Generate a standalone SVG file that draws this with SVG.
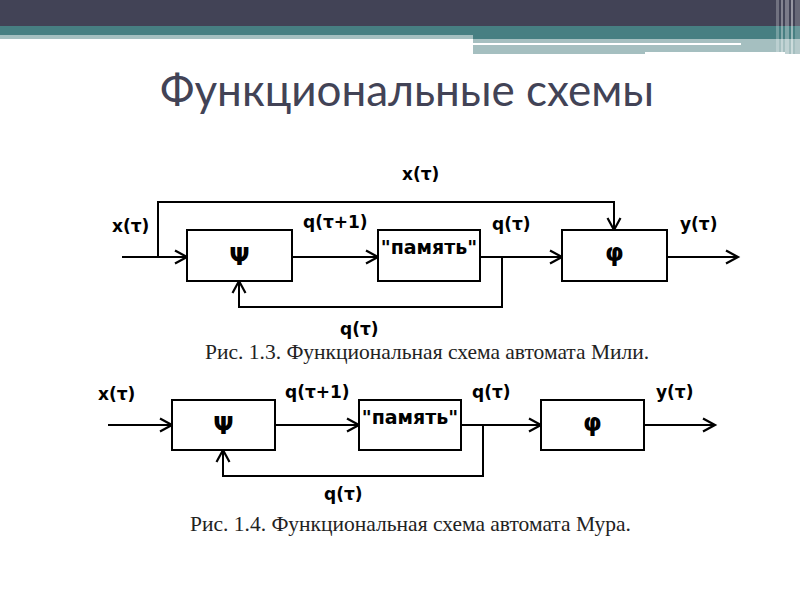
<svg xmlns="http://www.w3.org/2000/svg" width="800" height="600" viewBox="0 0 800 600">
<style>
.box{fill:#fff;stroke:#000;stroke-width:2}
.ln{fill:none;stroke:#000;stroke-width:2}
.lbl{font-family:"DejaVu Sans",sans-serif;font-weight:bold;font-size:17px;fill:#000}
.mem{font-family:"DejaVu Sans",sans-serif;font-weight:bold;font-size:19px;fill:#000}
.sym{font-family:"DejaVu Sans",sans-serif;font-weight:bold;font-size:24px;fill:#000}
.cap{font-family:"Liberation Serif",serif;font-size:21.5px;fill:#222}
</style>
<defs>
<marker id="ah" markerWidth="16" markerHeight="16" refX="13" refY="8" orient="auto" markerUnits="userSpaceOnUse">
<path d="M1,1.5 L13,8 L1,14.5" fill="none" stroke="#000" stroke-width="2.2"/>
</marker>
</defs>
<rect width="800" height="600" fill="#fff"/>
<g id="header">
<rect x="0" y="0" width="800" height="26" fill="#424356"/>
<rect x="0" y="26" width="800" height="9" fill="#477F82"/>
<rect x="0" y="35" width="473" height="4" fill="#A5BFC0"/>
<rect x="473" y="35" width="327" height="4" fill="#477F82"/>
<rect x="473" y="39" width="327" height="15" fill="#A5BFC0"/>
<rect x="473" y="43" width="268" height="2" fill="#fff"/>
<rect x="645" y="52" width="140" height="3" fill="#fff"/>
<rect x="776" y="0" width="3" height="54" fill="#fff" opacity="0.25"/>
<rect x="781" y="0" width="2" height="54" fill="#fff" opacity="0.35"/>
<rect x="785" y="0" width="4" height="54" fill="#fff" opacity="0.3"/>
<rect x="791" y="0" width="2" height="54" fill="#fff" opacity="0.45"/>
<rect x="795" y="0" width="5" height="54" fill="#fff" opacity="0.2"/>
</g>
<text x="160" y="106" font-family="Lato, sans-serif" font-size="44" fill="#424356">Функциональные схемы</text>

<g id="connectors">
<path class="ln" d="M122,257 H187" marker-end="url(#ah)"/>
<path class="ln" d="M158,257 V202 H614 V230" marker-end="url(#ah)"/>
<path class="ln" d="M292,257 H378" marker-end="url(#ah)"/>
<path class="ln" d="M480,257 H562" marker-end="url(#ah)"/>
<path class="ln" d="M502,257 V307 H239 V281" marker-end="url(#ah)"/>
<path class="ln" d="M667,257 H738" marker-end="url(#ah)"/>

<path class="ln" d="M108,425 H172" marker-end="url(#ah)"/>
<path class="ln" d="M275,425 H359" marker-end="url(#ah)"/>
<path class="ln" d="M461,425 H541" marker-end="url(#ah)"/>
<path class="ln" d="M483,425 V476 H223 V450" marker-end="url(#ah)"/>
<path class="ln" d="M644,425 H715" marker-end="url(#ah)"/>
</g>

<g id="psi1"><rect class="box" x="187" y="230" width="105" height="51"/><text class="sym" x="239.5" y="265" text-anchor="middle">Ψ</text></g>
<g id="mem1"><rect class="box" x="378" y="230" width="102" height="51"/><text class="mem" x="429" y="254" text-anchor="middle">"память"</text></g>
<g id="phi1"><rect class="box" x="562" y="230" width="105" height="51"/><text class="sym" x="614.5" y="261" text-anchor="middle">φ</text></g>

<g id="psi2"><rect class="box" x="172" y="400" width="103" height="50"/><text class="sym" x="223.5" y="434" text-anchor="middle">Ψ</text></g>
<g id="mem2"><rect class="box" x="359" y="400" width="102" height="50"/><text class="mem" x="410" y="424" text-anchor="middle">"память"</text></g>
<g id="phi2"><rect class="box" x="541" y="400" width="103" height="50"/><text class="sym" x="592.5" y="431" text-anchor="middle">φ</text></g>

<g id="labels">
<text class="lbl" x="112" y="232">x(τ)</text>
<text class="lbl" x="402" y="180">x(τ)</text>
<text class="lbl" x="303" y="228">q(τ+1)</text>
<text class="lbl" x="492" y="230">q(τ)</text>
<text class="lbl" x="680" y="230">y(τ)</text>
<text class="lbl" x="340" y="335">q(τ)</text>
<text class="cap" x="205" y="359">Рис. 1.3. Функциональная схема автомата Мили.</text>

<text class="lbl" x="98" y="400">x(τ)</text>
<text class="lbl" x="285" y="398">q(τ+1)</text>
<text class="lbl" x="472" y="398">q(τ)</text>
<text class="lbl" x="656" y="398">y(τ)</text>
<text class="lbl" x="324" y="500">q(τ)</text>
<text class="cap" x="190" y="531">Рис. 1.4. Функциональная схема автомата Мура.</text>
</g>
</svg>
